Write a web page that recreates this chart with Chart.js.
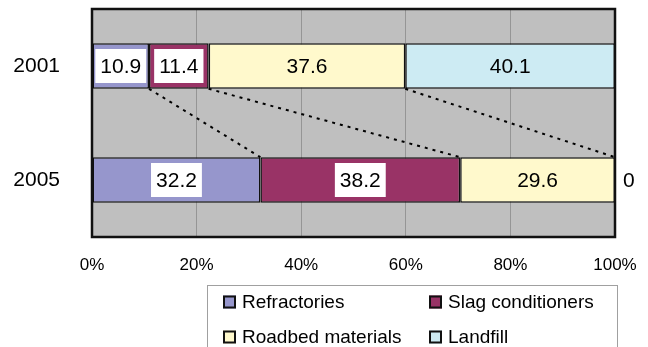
<!DOCTYPE html>
<html>
<head>
<meta charset="utf-8">
<script src="https://cdn.jsdelivr.net/npm/chart.js@4.4.1/dist/chart.umd.min.js"></script>
<style>
  html, body { margin: 0; padding: 0; background: #ffffff; }
  #wrap { width: 648px; height: 347px; }
</style>
</head>
<body>
<div id="wrap"><canvas id="c" width="648" height="347"></canvas></div>
<script>
// Share of uses (%) per year
const categories = ['2001', '2005'];
const seriesNames = ['Refractories', 'Slag conditioners', 'Roadbed materials', 'Landfill'];
const refractories = [10.9, 32.2];
const slagConditioners = [11.4, 38.2];
const roadbedMaterials = [37.6, 29.6];
const landfill = [40.1, 0];
const xTickValues = [0, 20, 40, 60, 80, 100];
const xTickLabels = ['0%', '20%', '40%', '60%', '80%', '100%'];

const seriesValues = [refractories, slagConditioners, roadbedMaterials, landfill];
const seriesColors = ['#9696CC', '#993366', '#FFF9CC', '#CDEBF3'];
const boxedSeries = [0, 1];          // value labels drawn on a white box
const FONT = "'Liberation Sans', Arial, Helvetica, sans-serif";

// gray plot background
const plotBackground = {
  id: 'plotBackground',
  beforeDraw(chart) {
    const { ctx, chartArea: a } = chart;
    ctx.save();
    ctx.fillStyle = '#BFBFBF';
    ctx.fillRect(a.left, a.top, a.right - a.left, a.bottom - a.top);
    ctx.restore();
  }
};

// dashed connectors, plot frame and value labels
const barDecorations = {
  id: 'barDecorations',
  afterDatasetsDraw(chart) {
    const { ctx, chartArea: a } = chart;
    const n = chart.data.datasets.length;

    // dashed lines joining the cumulative boundaries of the two bars
    ctx.save();
    ctx.strokeStyle = '#000';
    ctx.lineWidth = 2;
    ctx.setLineDash([3, 5]);
    for (let k = 0; k < n - 1; k++) {
      const meta = chart.getDatasetMeta(k);
      const upper = meta.data[0];
      const lower = meta.data[1];
      ctx.beginPath();
      ctx.moveTo(upper.x, upper.y + upper.height / 2);
      ctx.lineTo(lower.x, lower.y - lower.height / 2);
      ctx.stroke();
    }
    ctx.restore();

    // plot frame
    ctx.save();
    ctx.strokeStyle = '#111';
    ctx.lineWidth = 2.5;
    ctx.strokeRect(a.left, a.top, a.right - a.left, a.bottom - a.top);
    ctx.restore();

    // value labels
    ctx.save();
    ctx.font = '21px ' + FONT;
    ctx.textBaseline = 'middle';
    chart.data.datasets.forEach((ds, i) => {
      const meta = chart.getDatasetMeta(i);
      ds.data.forEach((v, j) => {
        const el = meta.data[j];
        if (v > 0) {
          const cx = (el.x + el.base) / 2;
          const cy = el.y;
          const text = v.toFixed(1);
          const w = ctx.measureText(text).width;
          if (boxedSeries.includes(i)) {
            ctx.fillStyle = '#fff';
            ctx.fillRect(cx - w / 2 - 5, cy - 17, w + 10, 34);
          }
          ctx.fillStyle = '#000';
          ctx.textAlign = 'center';
          ctx.fillText(text, cx, cy + 1);
        } else {
          ctx.fillStyle = '#000';
          ctx.textAlign = 'left';
          ctx.fillText(String(v), el.x + 8, el.y + 1);
        }
      });
    });
    ctx.restore();
  }
};

// two-column legend in a framed box below the axis
const boxLegend = {
  id: 'boxLegend',
  afterDraw(chart) {
    const { ctx } = chart;
    const left = 207.5, top = 285.5, right = 617.5, bottom = 352;
    const cols = [223, 429];
    const rows = [302, 337];
    ctx.save();
    ctx.strokeStyle = '#A0A0A0';
    ctx.lineWidth = 1;
    ctx.strokeRect(left, top, right - left, bottom - top);
    ctx.font = '19px ' + FONT;
    ctx.textBaseline = 'middle';
    ctx.textAlign = 'left';
    chart.data.datasets.forEach((ds, i) => {
      const x = cols[i % 2];
      const y = rows[Math.floor(i / 2)];
      ctx.fillStyle = ds.backgroundColor;
      ctx.fillRect(x, y - 6.5, 13, 13);
      ctx.strokeStyle = '#111';
      ctx.lineWidth = 2;
      ctx.strokeRect(x + 1, y - 5.5, 11, 11);
      ctx.fillStyle = '#000';
      ctx.fillText(ds.label, x + 19, y + 1);
    });
    ctx.restore();
  }
};

new Chart(document.getElementById('c'), {
  type: 'bar',
  data: {
    labels: categories,
    datasets: seriesNames.map((name, i) => ({
      label: name,
      data: seriesValues[i],
      backgroundColor: seriesColors[i],
      borderColor: '#111',
      borderWidth: 1.5,
      borderSkipped: false,
      categoryPercentage: 1,
      barPercentage: 0.4
    }))
  },
  options: {
    indexAxis: 'y',
    responsive: false,
    animation: false,
    devicePixelRatio: 1,
    layout: { padding: { top: 9, right: 33, left: 0, bottom: 0 } },
    plugins: {
      legend: { display: false },
      tooltip: { enabled: false }
    },
    scales: {
      x: {
        stacked: true,
        min: 0,
        max: 100,
        afterFit(scale) {
          scale.height = 110;
          scale.paddingLeft = 0;
          scale.paddingRight = 0;
          scale.paddingTop = 0;
          scale.paddingBottom = 0;
        },
        afterBuildTicks(scale) {
          scale.ticks = xTickValues.map(v => ({ value: v }));
        },
        ticks: {
          padding: 18,
          color: '#000',
          font: { family: FONT, size: 17 },
          maxRotation: 0,
          callback: (v) => xTickLabels[xTickValues.indexOf(v)]
        },
        grid: { color: '#959595', lineWidth: 1, drawTicks: false },
        border: { display: false }
      },
      y: {
        stacked: true,
        afterFit(scale) {
          scale.width = 92;
          scale.paddingLeft = 0;
          scale.paddingRight = 0;
          scale.paddingTop = 0;
          scale.paddingBottom = 0;
        },
        ticks: {
          padding: 32,
          color: '#000',
          font: { family: FONT, size: 21 }
        },
        grid: { display: false, drawTicks: false },
        border: { display: false }
      }
    }
  },
  plugins: [plotBackground, barDecorations, boxLegend]
});
</script>
</body>
</html>
